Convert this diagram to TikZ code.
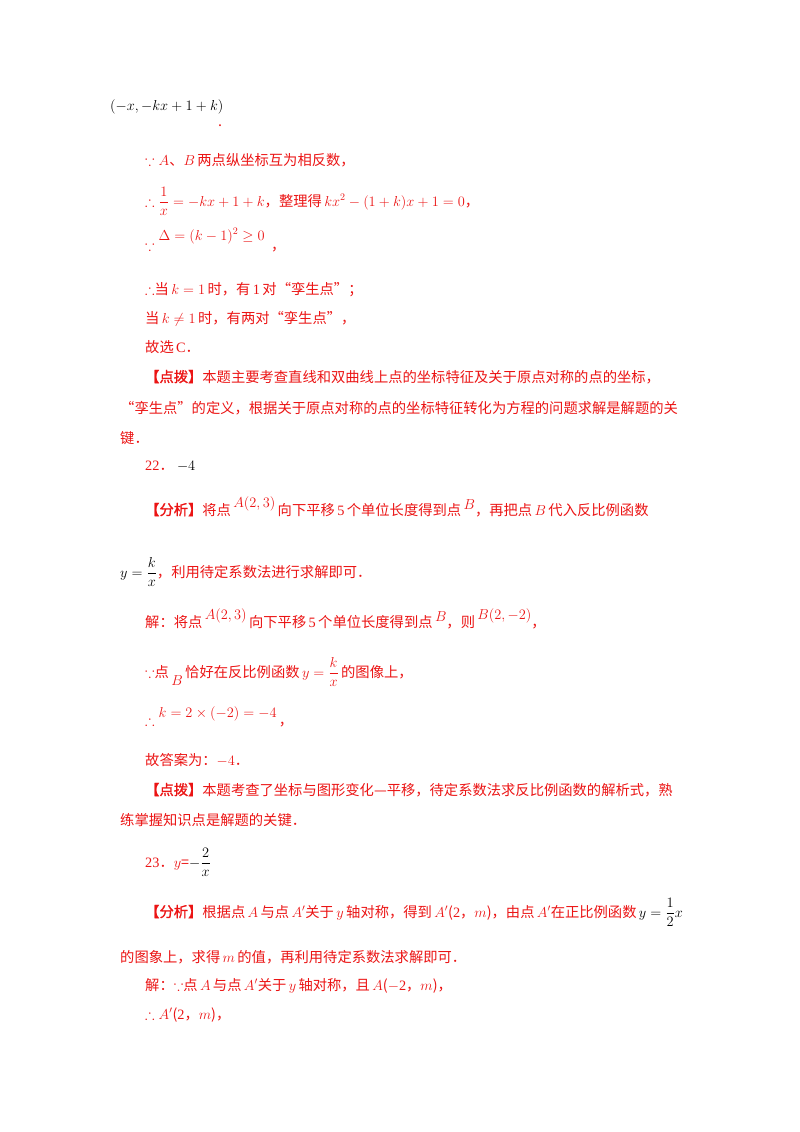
\documentclass[tikz,border=0pt]{standalone}
\usepackage{amsmath,amssymb}
\usepackage{fontspec}
\setmainfont{Noto Sans CJK SC}
\newfontfamily\lt{Liberation Serif}
\newfontfamily\bb[FakeBold=1.5]{Noto Sans CJK SC}
\definecolor{rd}{RGB}{235,20,20}
\tikzset{ln/.style={anchor=base west,inner sep=0pt,text=rd,font=\fontsize{14.3}{16}\selectfont}}
\newcommand{\bk}[1]{{\color{black}#1}}
\begin{document}
\begin{tikzpicture}[x=1pt,y=-1pt]
\useasboundingbox (0,0) rectangle (800,1132);
\node[ln,text=black] (l0) at (110,110) {$(-x,-kx+1+k)$};
\node[ln] (l0b) at (218,126) {.};
\node[ln] (l1) at (145,165) {$\because A$、$B$\,两点纵坐标互为相反数，};
\node[ln] (l2) at (145,206) {$\therefore\dfrac{1}{x}=-kx+1+k$，整理得\,$kx^2-(1+k)x+1=0$，};
\node[ln] (l3) at (145,250) {$\because\raisebox{10pt}{$\Delta=(k-1)^2\ge 0$}$\ \ ，};
\node[ln] (l4) at (145,294) {$\therefore$当\,$k=1$\,时，有\,{\lt 1}\,对“孪生点”；};
\node[ln] (l5) at (145,323) {当\,$k\ne1$\,时，有两对“孪生点”，};
\node[ln] (l6) at (145,352) {故选\,{\lt C}．};
\node[ln] (l7) at (145,382) {{\bb【点拨】}本题主要考查直线和双曲线上点的坐标特征及关于原点对称的点的坐标，};
\node[ln] (l8) at (120,413) {“孪生点”的定义，根据关于原点对称的点的坐标特征转化为方程的问题求解是解题的关};
\node[ln] (l9) at (120,443) {键．};
\node[ln] (m0) at (145,470) {{\lt 22}．\ \bk{$-4$}};
\node[ln] (m1) at (145,515) {{\bb【分析】}将点\,\raisebox{8pt}{$A(2,3)$}\,向下平移\,{\lt 5}\,个单位长度得到点\,\raisebox{6pt}{$B$}，再把点\,$B$\,代入反比例函数};
\node[ln] (m2) at (120,577) {\bk{$y=\dfrac{k}{x}$}，利用待定系数法进行求解即可．};
\node[ln] (m3) at (145,627) {解：将点\,\raisebox{8pt}{$A(2,3)$}\,向下平移\,{\lt 5}\,个单位长度得到点\,\raisebox{6pt}{$B$}，则\,\raisebox{8pt}{$B(2,-2)$}，};
\node[ln] (m4) at (145,677) {$\because$点\,\raisebox{-8pt}{$B$}\,恰好在反比例函数\,$y=\dfrac{k}{x}$\,的图像上，};
\node[ln] (m5) at (145,725) {$\therefore\raisebox{8pt}{$k=2\times(-2)=-4$}$\,，};
\node[ln] (m6) at (145,765) {故答案为：$-4$．};
\node[ln] (m7) at (145,795) {{\bb【点拨】}本题考查了坐标与图形变化—平移，待定系数法求反比例函数的解析式，熟};
\node[ln] (m8) at (120,825) {练掌握知识点是解题的关键．};
\node[ln] (n0) at (145,867) {{\lt 23}．$y$=\bk{$-\dfrac{2}{x}$}};
\node[ln] (n1) at (145,917) {{\bb【分析】}根据点\,$A$\,与点\,$A'$关于\,$y$\,轴对称，得到\,$A'$({\lt 2}，$m$)，由点\,$A'$在正比例函数\,\bk{$y=\dfrac{1}{2}x$}};
\node[ln] (n2) at (120,962) {的图象上，求得\,$m$\,的值，再利用待定系数法求解即可．};
\node[ln] (n3) at (145,990) {解：$\because$点\,$A$\,与点\,$A'$关于\,$y$\,轴对称，且\,$A$($-${\lt 2}，$m$)，};
\node[ln] (n4) at (145,1019) {$\therefore A'$({\lt 2}，$m$)，};
\end{tikzpicture}
\end{document}
